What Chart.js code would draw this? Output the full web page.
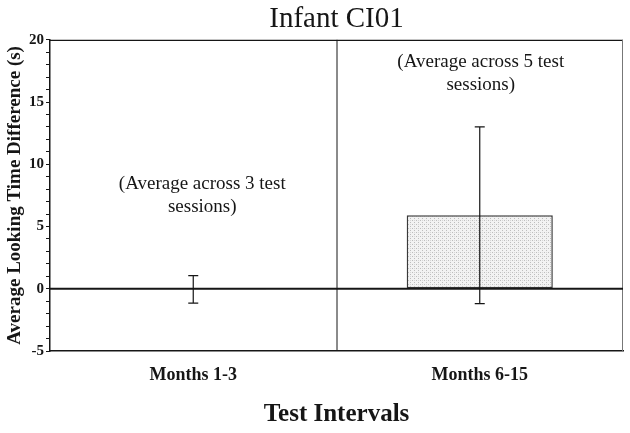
<!DOCTYPE html>
<html>
<head>
<meta charset="utf-8">
<script src="https://cdn.jsdelivr.net/npm/chart.js@4/dist/chart.umd.min.js"></script>
<style>
  html, body { margin: 0; padding: 0; background: #fff; }
  #wrap { width: 630px; height: 433px; }
</style>
</head>
<body>
<div id="wrap"><canvas id="chart" width="630" height="433"></canvas></div>
<script>
// data
var categories = ['Months 1-3', 'Months 6-15'];
var means = [-0.05, 5.9];
var errors = [1.1, 7.1];
var notes = [
  ['(Average across 3 test', 'sessions)'],
  ['(Average across 5 test', 'sessions)']
];
var noteValues = [8.4, 18.2];

var serif = '"Liberation Serif", "DejaVu Serif", serif';
var ink = '#161616';

// stippled grey fill like the scanned bar
function stipple() {
  var c = document.createElement('canvas');
  c.width = 4; c.height = 4;
  var g = c.getContext('2d');
  g.fillStyle = '#f2f2f2';
  g.fillRect(0, 0, 4, 4);
  g.fillStyle = '#bdbdbd';
  g.fillRect(0, 0, 1, 1);
  g.fillRect(2, 2, 1, 1);
  g.fillStyle = '#d6d6d6';
  g.fillRect(2, 0, 1, 1);
  return g.createPattern(c, 'repeat');
}

// frame lines, zero line, error bars and notes
var extras = {
  id: 'extras',
  afterDatasetsDraw: function (chart) {
    var ctx = chart.ctx, a = chart.chartArea;
    var x = chart.scales.x, y = chart.scales.y;
    ctx.save();
    ctx.strokeStyle = ink;

    // top border
    ctx.lineWidth = 1.2;
    ctx.beginPath();
    ctx.moveTo(a.left, a.top + 0.5);
    ctx.lineTo(a.right, a.top + 0.5);
    ctx.stroke();

    // right border, faint
    ctx.strokeStyle = '#777';
    ctx.lineWidth = 1;
    ctx.beginPath();
    ctx.moveTo(a.right - 0.5, a.top);
    ctx.lineTo(a.right - 0.5, a.bottom);
    ctx.stroke();
    ctx.strokeStyle = ink;

    // divider between the categories
    var mid = (x.getPixelForValue(0) + x.getPixelForValue(1)) / 2;
    ctx.beginPath();
    ctx.moveTo(mid + 0.5, a.top);
    ctx.lineTo(mid + 0.5, a.bottom);
    ctx.stroke();

    // zero line
    var y0 = y.getPixelForValue(0);
    ctx.lineWidth = 2;
    ctx.beginPath();
    ctx.moveTo(a.left, y0);
    ctx.lineTo(a.right, y0);
    ctx.stroke();

    // error bars
    ctx.lineWidth = 1.2;
    means.forEach(function (m, i) {
      var px = x.getPixelForValue(i);
      var top = y.getPixelForValue(m + errors[i]);
      var bot = y.getPixelForValue(m - errors[i]);
      ctx.beginPath();
      ctx.moveTo(px, top); ctx.lineTo(px, bot);
      ctx.moveTo(px - 5, top); ctx.lineTo(px + 5, top);
      ctx.moveTo(px - 5, bot); ctx.lineTo(px + 5, bot);
      ctx.stroke();
    });

    // notes
    ctx.fillStyle = ink;
    ctx.font = '19px ' + serif;
    ctx.textAlign = 'center';
    ctx.textBaseline = 'middle';
    notes.forEach(function (lines, i) {
      var px = x.getPixelForValue(i) + (i === 0 ? 9 : 1);
      var py = y.getPixelForValue(noteValues[i]);
      lines.forEach(function (t, k) {
        ctx.fillText(t, px, py + k * 23);
      });
    });
    ctx.restore();
  }
};

new Chart(document.getElementById('chart'), {
  type: 'bar',
  data: {
    labels: categories,
    datasets: [{
      data: means,
      backgroundColor: stipple(),
      borderColor: '#3a3a3a',
      borderWidth: 1.5,
      borderSkipped: false,
      barPercentage: 0.51,
      categoryPercentage: 1
    }]
  },
  options: {
    responsive: false,
    animation: false,
    layout: { padding: { left: 4, right: 7, top: 0, bottom: 0 } },
    plugins: {
      legend: { display: false },
      tooltip: { enabled: false },
      title: {
        display: true,
        text: 'Infant CI01',
        fullSize: false,
        color: ink,
        font: { family: serif, size: 29, weight: 'normal' },
        padding: { top: 2, bottom: 3 }
      }
    },
    scales: {
      x: {
        offset: true,
        grid: { display: false, drawTicks: false },
        border: { display: true, color: ink, width: 1.5 },
        ticks: {
          color: ink,
          padding: 14,
          font: { family: serif, size: 18, weight: 'bold' }
        },
        title: {
          display: true,
          text: 'Test Intervals',
          color: ink,
          font: { family: serif, size: 25, weight: 'bold' },
          padding: { top: 10, bottom: 3 }
        },
        afterFit: function (s) { s.height = 82; }
      },
      y: {
        min: -5,
        max: 20,
        grid: { drawOnChartArea: false, drawTicks: true, tickLength: 4, color: ink },
        border: { display: true, color: ink, width: 1.5 },
        ticks: {
          stepSize: 1,
          autoSkip: false,
          color: ink,
          padding: 2,
          font: { family: serif, size: 15, weight: 'bold' },
          callback: function (v) { return v % 5 === 0 ? v : ''; }
        },
        title: {
          display: true,
          text: 'Average Looking Time Difference (s)',
          color: ink,
          font: { family: serif, size: 19, weight: 'bold' },
          padding: { top: 0, bottom: 0 }
        },
        afterFit: function (s) { s.width = 46; }
      }
    }
  },
  plugins: [extras]
});
</script>
</body>
</html>
